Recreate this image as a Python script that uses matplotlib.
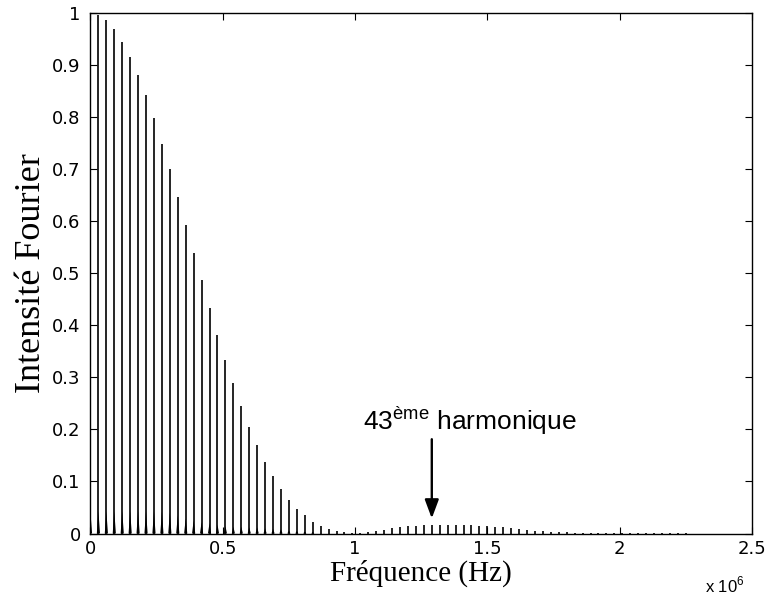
import numpy as np
import matplotlib
matplotlib.use('Agg')
import matplotlib.pyplot as plt
from matplotlib.ticker import FuncFormatter

plt.rcParams['font.family'] = 'Liberation Sans'
plt.rcParams['mathtext.fontset'] = 'custom'
plt.rcParams['mathtext.rm'] = 'Liberation Sans'

# Fundamental of the pulse train (Hz)
F0 = 30e3

# Main harmonic peaks (harmonic number -> normalised intensity)
harm_main = np.arange(1, 76)
amp_main = [0.996, 0.985, 0.968, 0.944, 0.915, 0.880, 0.841, 0.797, 0.748, 0.699,
            0.646, 0.593, 0.539, 0.486, 0.433, 0.382, 0.333, 0.288, 0.245, 0.205,
            0.170, 0.138, 0.110, 0.086, 0.065, 0.048, 0.035, 0.023, 0.015, 0.009,
            0.004, 0.002, 0.001, 0.001, 0.002, 0.005, 0.007, 0.010, 0.012, 0.014,
            0.015, 0.016, 0.016, 0.017, 0.017, 0.017, 0.017, 0.016, 0.015, 0.014,
            0.013, 0.012, 0.010, 0.008, 0.007, 0.005, 0.004, 0.003, 0.002, 0.002,
            0.001, 0.001, 0.001, 0.001, 0.001, 0.001, 0.001, 0.001, 0.001, 0.001,
            0.001, 0.001, 0.001, 0.001, 0.001]

# Broad base under each low-order peak
harm_ped = np.arange(0, 29)
amp_ped = [0.040, 0.043, 0.043, 0.043, 0.043, 0.043, 0.043, 0.043, 0.043, 0.042,
           0.040, 0.035, 0.029, 0.025, 0.022, 0.020, 0.017, 0.014, 0.013, 0.013,
           0.012, 0.012, 0.010, 0.009, 0.008, 0.006, 0.005, 0.004, 0.003]

x_ticks = [0, 0.5e6, 1.0e6, 1.5e6, 2.0e6, 2.5e6]
y_ticks = np.round(np.arange(0, 1.01, 0.1), 1)

ARROW_HARM = 43

fig = plt.figure(figsize=(7.68, 5.99), dpi=100)
ax = fig.add_axes([0.1178, 0.1093, 0.8613, 0.8698])

# pedestals (narrow triangles)
w = 6e3
for n, h in zip(harm_ped, amp_ped):
    f = n * F0
    ax.fill([f - w, f, f + w], [0, h, 0], color='k', lw=0)

ax.vlines(harm_main * F0, 0, amp_main, colors='k', lw=1.2)

ax.set_xlim(0, 2.5e6)
ax.set_ylim(0, 1)
ax.set_xticks(x_ticks)
ax.set_yticks(y_ticks)
ax.xaxis.set_major_formatter(FuncFormatter(lambda v, p: '%g' % (v / 1e6)))
ax.yaxis.set_major_formatter(FuncFormatter(lambda v, p: '%g' % v))
ax.tick_params(direction='in', top=True, right=True, length=5, width=0.8,
               labelsize=13)
ax.tick_params(axis='x', pad=5)
ax.tick_params(axis='y', pad=7)
for lab in ax.get_xticklabels() + ax.get_yticklabels():
    lab.set_family('DejaVu Sans')
for s in ax.spines.values():
    s.set_linewidth(1.0)

ax.set_xlabel('Fréquence (Hz)', family='Liberation Serif', fontsize=21, labelpad=1)
ax.set_ylabel('Intensité Fourier', family='Liberation Serif', fontsize=26, labelpad=3)

fig.text(0.970, 0.0117, 'x 10$^6$', ha='right', va='baseline', fontsize=12)

# arrow + label for the 43rd harmonic
fa = ARROW_HARM * F0
ax.annotate('', xy=(fa, 0.029), xytext=(fa, 0.181),
            arrowprops=dict(arrowstyle='-|>,head_length=1.13,head_width=0.42',
                            mutation_scale=10, lw=1.7, color='k',
                            shrinkA=0, shrinkB=0))
ax.text(1.029e6, 0.199, '43$^{\\mathrm{ème}}$ harmonique', fontsize=19,
        ha='left', va='baseline')

plt.savefig('out.png', dpi=100)
plt.close()
